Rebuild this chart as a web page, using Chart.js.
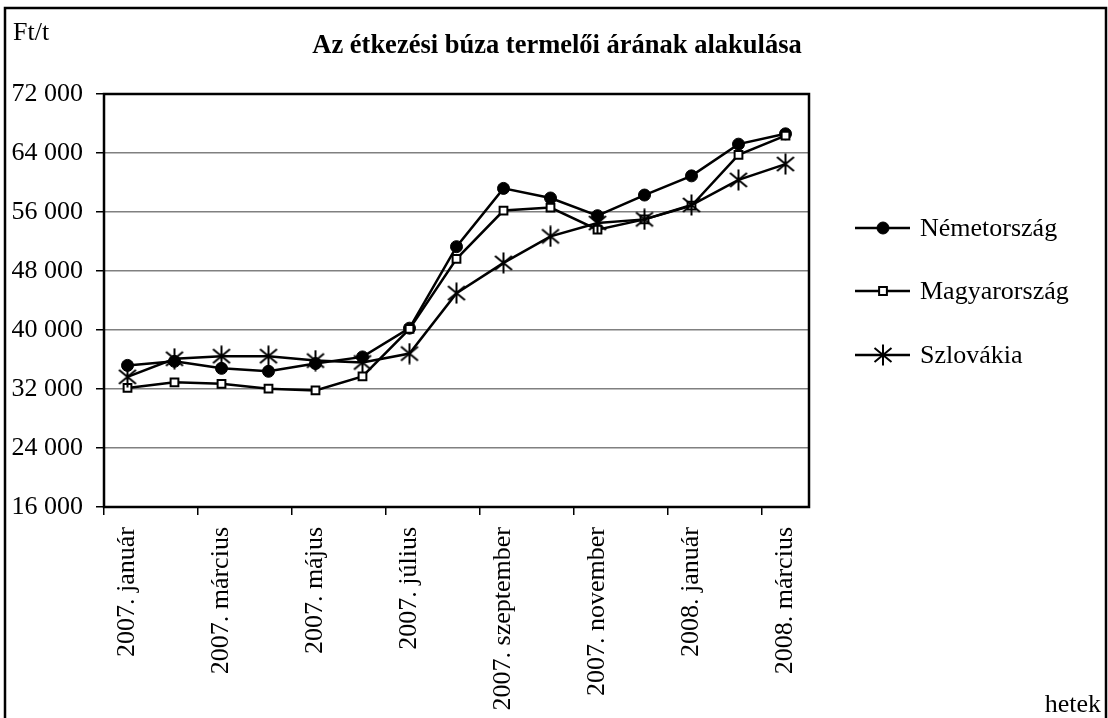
<!DOCTYPE html>
<html>
<head>
<meta charset="utf-8">
<script src="https://cdn.jsdelivr.net/npm/chart.js@4/dist/chart.umd.min.js"></script>
<style>
  html, body { margin: 0; padding: 0; background: #fff; }
  canvas { display: block; }
</style>
</head>
<body>
<canvas id="chart" width="1108" height="718"></canvas>
<script>
const months = [
  '2007. január', '2007. február', '2007. március', '2007. április', '2007. május',
  '2007. június', '2007. július', '2007. augusztus', '2007. szeptember', '2007. október',
  '2007. november', '2007. december', '2008. január', '2008. február', '2008. március'
];
const nemetorszag = [35200, 35750, 34800, 34400, 35450, 36350, 40250, 51300, 59200, 57900, 55500, 58300, 60900, 65200, 66600];
const magyarorszag = [32150, 32900, 32700, 32050, 31800, 33700, 40150, 49650, 56200, 56600, 53600, 55000, 56850, 63750, 66350];
const szlovakia = [33650, 36100, 36450, 36450, 35850, 35600, 36800, 45000, 49100, 52700, 54500, 55000, 56950, 60350, 62500];
const yTicks = [16000, 24000, 32000, 40000, 48000, 56000, 64000, 72000];

const FONT = '"Liberation Serif", "Times New Roman", serif';

// asterisk marker (vertical + two diagonals)
function makeStar() {
  const c = document.createElement('canvas');
  c.width = 22; c.height = 22;
  const g = c.getContext('2d');
  g.strokeStyle = '#000';
  g.lineWidth = 2;
  g.beginPath();
  g.moveTo(11, 0.5); g.lineTo(11, 21.5);
  g.moveTo(2.5, 4); g.lineTo(19.5, 18);
  g.moveTo(19.5, 4); g.lineTo(2.5, 18);
  g.stroke();
  return c;
}
const star = makeStar();

const frame = {
  id: 'frame',
  beforeDatasetsDraw(chart) {
    const {ctx, chartArea: a} = chart;
    ctx.save();
    ctx.strokeStyle = '#000';
    ctx.lineWidth = 2.5;
    ctx.strokeRect(a.left, a.top, a.right - a.left, a.bottom - a.top);
    ctx.restore();
  },
  afterDraw(chart) {
    const ctx = chart.ctx;
    ctx.save();
    // outer border
    ctx.strokeStyle = '#000';
    ctx.lineWidth = 2.5;
    ctx.strokeRect(5, 8, 1101, 740);

    ctx.fillStyle = '#000';
    ctx.textBaseline = 'alphabetic';
    ctx.font = '26px ' + FONT;
    ctx.textAlign = 'left';
    ctx.fillText('Ft/t', 13, 40);
    ctx.textAlign = 'right';
    ctx.fillText('hetek', 1101, 712);

    ctx.font = 'bold 26.5px ' + FONT;
    ctx.textAlign = 'center';
    ctx.fillText('Az étkezési búza termelői árának alakulása', 557, 53);

    // legend
    const rows = [228, 291, 355];
    chart.data.datasets.forEach((ds, i) => {
      const y = rows[i];
      ctx.strokeStyle = '#000';
      ctx.lineWidth = 2.5;
      ctx.beginPath();
      ctx.moveTo(855, y);
      ctx.lineTo(910, y);
      ctx.stroke();
      ctx.fillStyle = ds.pointBackgroundColor;
      ctx.strokeStyle = '#000';
      ctx.lineWidth = ds.pointBorderWidth;
      Chart.helpers.drawPoint(ctx, {
        pointStyle: ds.pointStyle, radius: ds.pointRadius, rotation: 0, borderWidth: ds.pointBorderWidth
      }, 883, y);
      ctx.fillStyle = '#000';
      ctx.font = '26px ' + FONT;
      ctx.textAlign = 'left';
      ctx.textBaseline = 'middle';
      ctx.fillText(ds.label, 920, y + 1);
    });
    ctx.restore();
  }
};

new Chart(document.getElementById('chart'), {
  type: 'line',
  data: {
    labels: months,
    datasets: [
      {
        label: 'Németország', data: nemetorszag, order: 3,
        borderColor: '#000', borderWidth: 2.5, tension: 0,
        pointStyle: 'circle', pointRadius: 6, pointBackgroundColor: '#000',
        pointBorderColor: '#000', pointBorderWidth: 1
      },
      {
        label: 'Magyarország', data: magyarorszag, order: 2,
        borderColor: '#000', borderWidth: 2.5, tension: 0,
        pointStyle: 'rect', pointRadius: 5.5, pointBackgroundColor: '#fff',
        pointBorderColor: '#000', pointBorderWidth: 2
      },
      {
        label: 'Szlovákia', data: szlovakia, order: 1,
        borderColor: '#000', borderWidth: 2.5, tension: 0,
        pointStyle: star, pointRadius: 10, pointBackgroundColor: '#000',
        pointBorderColor: '#000', pointBorderWidth: 2
      }
    ]
  },
  options: {
    responsive: false,
    animation: false,
    devicePixelRatio: 1,
    layout: { padding: { left: 0, top: 94, right: 299, bottom: 0 } },
    plugins: {
      legend: { display: false },
      title: { display: false },
      tooltip: { enabled: false }
    },
    scales: {
      x: {
        type: 'category',
        offset: true,
        afterFit(scale) { scale.height = 211; },
        border: { display: false },
        grid: {
          offset: true,
          drawOnChartArea: false,
          tickLength: 8,
          lineWidth: 1.5,
          color: ctx => (ctx.index % 2 === 0 ? '#000' : 'rgba(0,0,0,0)')
        },
        ticks: {
          autoSkip: false,
          minRotation: 90,
          maxRotation: 90,
          padding: 12,
          color: '#000',
          font: { family: FONT, size: 26 },
          callback: (v, i) => (i % 2 === 0 ? months[i] : '')
        }
      },
      y: {
        min: yTicks[0],
        max: yTicks[yTicks.length - 1],
        afterFit(scale) { scale.width = 104; },
        afterBuildTicks(scale) { scale.ticks = yTicks.map(v => ({ value: v })); },
        border: { display: false },
        grid: {
          color: '#808080',
          lineWidth: 1.5,
          tickLength: 8,
          tickColor: '#000'
        },
        ticks: {
          padding: 13,
          color: '#000',
          font: { family: FONT, size: 26 },
          callback: v => Math.round(v / 1000) + ' 000'
        }
      }
    }
  },
  plugins: [frame]
});
</script>
</body>
</html>
